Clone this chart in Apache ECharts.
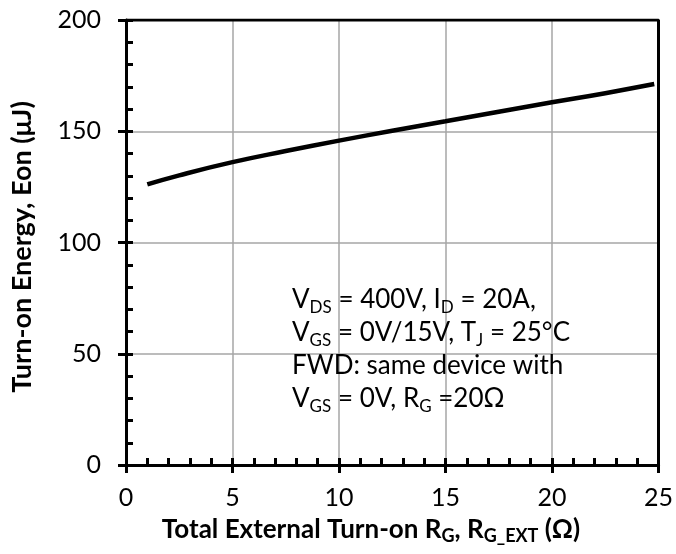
<!DOCTYPE html>
<html>
<head>
<meta charset="utf-8">
<script src="https://cdn.jsdelivr.net/npm/echarts@6/dist/echarts.min.js"></script>
<style>
html,body{margin:0;padding:0;background:#fff;}
#eonChart{width:676px;height:554px;}
</style>
</head>
<body>
<div id="eonChart"></div>
<script>
// external gate resistance (ohm) and turn-on energy (uJ)
var rgExt = [1, 2.5, 5, 7.5, 10, 12.5, 15, 17.5, 20, 22.5, 24.8];
var eonUJ = [126.1, 130.2, 136.1, 141.1, 145.8, 150.2, 154.5, 158.8, 163.0, 167.1, 171.2];

var xTicks = [0, 5, 10, 15, 20, 25];
var yTicks = [0, 50, 100, 150, 200];

var chart = echarts.init(document.getElementById('eonChart'));
var font = 'Lato';

var sub = {fontFamily: font, fontSize: 17, verticalAlign: 'bottom', lineHeight: 8, color: '#000'};
var subB = {fontFamily: font, fontSize: 18, fontWeight: 'bold', verticalAlign: 'bottom', lineHeight: 8, color: '#000'};

var option = {
    animation: false,
    grid: {left: 126, right: 16, top: 20, bottom: 89},
    xAxis: [{
        type: 'value',
        min: xTicks[0], max: xTicks[xTicks.length - 1], interval: 5,
        axisLine: {lineStyle: {color: '#000', width: 3}},
        axisTick: {inside: true, length: 7, lineStyle: {color: '#000', width: 3}},
        minorTick: {show: true, splitNumber: 5, length: 7, lineStyle: {color: '#000', width: 3}},
        axisLabel: {fontFamily: font, fontSize: 25, color: '#000', margin: 20},
        splitLine: {show: true, lineStyle: {color: '#a6a6a6', width: 1.5}}
    }, {
        type: 'value',
        min: xTicks[0], max: xTicks[xTicks.length - 1], interval: 5,
        position: 'bottom',
        axisLine: {show: false},
        axisTick: {inside: false, length: 8, lineStyle: {color: '#000', width: 3}},
        axisLabel: {show: false},
        splitLine: {show: false}
    }],
    yAxis: [{
        type: 'value',
        min: yTicks[0], max: yTicks[yTicks.length - 1], interval: 50,
        axisLine: {show: true, lineStyle: {color: '#000', width: 3}},
        axisTick: {show: true, inside: true, length: 7, lineStyle: {color: '#000', width: 3}},
        minorTick: {show: true, splitNumber: 5, length: 7, lineStyle: {color: '#000', width: 3}},
        axisLabel: {fontFamily: font, fontSize: 25, color: '#000', margin: 25},
        splitLine: {show: true, lineStyle: {color: '#a6a6a6', width: 1.5}}
    }, {
        type: 'value',
        min: yTicks[0], max: yTicks[yTicks.length - 1], interval: 50,
        position: 'left',
        axisLine: {show: false},
        axisTick: {show: true, inside: false, length: 8, lineStyle: {color: '#000', width: 3}},
        axisLabel: {show: false},
        splitLine: {show: false}
    }],
    series: [{
        type: 'line',
        data: rgExt.map(function (x, i) { return [x, eonUJ[i]]; }),
        smooth: true,
        showSymbol: false,
        lineStyle: {color: '#000', width: 4.5},
        z: 5
    }, {
        // top and right frame
        type: 'line',
        data: [[0, 200], [25, 200], [25, 0]],
        showSymbol: false,
        silent: true,
        lineStyle: {color: '#000', width: 3},
        z: 4
    }],
    graphic: [{
        type: 'text',
        left: 292,
        top: 283,
        style: {
            text: 'V{s|DS} = 400V, I{s|D} = 20A,\nV{s|GS} = 0V/15V, T{s|J} = 25°C\nFWD: same device with\nV{s|GS} = 0V, R{s|G} =20Ω',
            fontFamily: font,
            fontSize: 26,
            lineHeight: 33,
            fill: '#000',
            rich: {s: sub}
        },
        z: 10
    }, {
        type: 'text',
        x: 371,
        y: 530,
        style: {
            text: 'Total External Turn-on R{s|G}, R{s|G_EXT} (Ω)',
            fontFamily: font, fontSize: 26, fontWeight: 'bold', fill: '#000',
            lineHeight: 30,
            align: 'center', verticalAlign: 'middle',
            rich: {s: subB}
        }
    }, {
        type: 'text',
        x: 22,
        y: 247,
        rotation: Math.PI / 2,
        style: {
            text: 'Turn-on Energy, Eon (μJ)',
            fontFamily: font, fontSize: 27, fontWeight: 'bold', fill: '#000',
            align: 'center', verticalAlign: 'middle'
        }
    }]
};

chart.setOption(option);
</script>
</body>
</html>
